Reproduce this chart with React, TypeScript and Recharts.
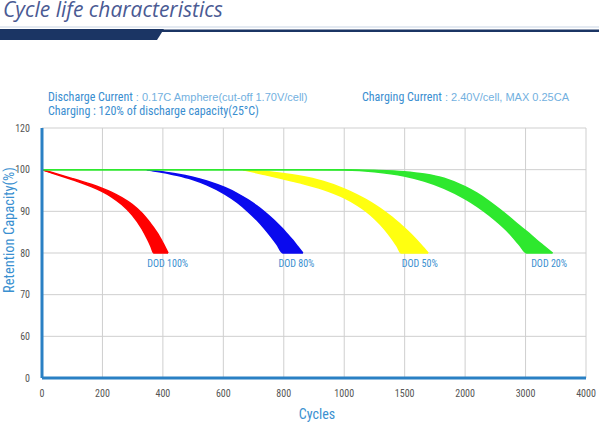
import React from 'react';
import { ComposedChart, Area, XAxis, YAxis, CartesianGrid, ReferenceDot } from 'recharts';

// Axis tick labels (x axis is a non-linear, equally spaced scale)
const xTickCycles = [0, 200, 400, 600, 800, 1000, 1500, 2000, 3000, 4000];
const yTickLabels = [0, 60, 70, 80, 90, 100, 120];
const yTickPositions = [50, 60, 70, 80, 90, 100, 110];

// Bands: cycles, lower edge (%), upper edge (%)
const dod100Cycles = [0, 33, 66, 99, 132, 165, 198, 231, 264, 298, 331, 350, 360, 370, 384, 400, 417];
const dod100Low = [100, 99.21, 98.43, 97.63, 96.8, 95.88, 94.8, 93.44, 91.64, 89.18, 85.79, 83.18, 81.66, 80, 80, 80, 80];
const dod100High = [100, 99.31, 98.61, 97.91, 97.19, 96.42, 95.56, 94.55, 93.29, 91.67, 89.52, 87.91, 86.99, 85.99, 84.51, 82.42, 80];

const dod80Cycles = [347, 397, 446, 496, 545, 605, 645, 681, 711, 734, 757, 777, 797, 813, 830, 846, 863];
const dod80Low = [100, 99.38, 98.65, 97.68, 96.35, 94.14, 92.19, 90, 87.9, 86.05, 84.01, 82.08, 80, 80, 80, 80, 80];
const dod80High = [100, 99.53, 98.98, 98.26, 97.3, 95.71, 94.33, 92.78, 91.3, 90, 88.56, 87.21, 85.75, 84.44, 83.05, 81.57, 80];

const dod50Cycles = [665, 731, 797, 853, 929, 1000, 1107, 1182, 1256, 1331, 1397, 1438, 1471, 1521, 1579, 1636, 1694];
const dod50Low = [100, 98.92, 97.82, 96.85, 95.3, 93.24, 91.52, 90, 88.13, 85.84, 83.36, 81.58, 80, 80, 80, 80, 80];
const dod50High = [100, 99.61, 99.09, 98.46, 97.2, 95.38, 93.95, 92.79, 91.48, 90, 88.53, 87.54, 86.71, 85.38, 83.72, 81.93, 80];

const dod20Cycles = [0, 853, 1000, 1248, 1496, 1661, 1826, 2000, 2198, 2397, 2562, 2727, 2893, 3017, 3182, 3314, 3446];
const dod20Low = [100, 100, 99.91, 99.49, 98.46, 97.26, 95.53, 93.0, 91.2, 89.08, 87.07, 84.81, 82.05, 80, 80, 80, 80];
const dod20High = [100, 100, 99.98, 99.86, 99.52, 98.96, 97.95, 95.9, 94.34, 92.41, 90.6, 88.67, 86.63, 85.18, 83.13, 81.57, 80];

const dodLabels = ['DOD 100%', 'DOD 80%', 'DOD 50%', 'DOD 20%'];
const dodLabelCycles = [416, 842, 1625, 3390];

// map cycles onto the equally spaced tick index scale
const toIdx = (c: number) => {
  for (let i = 0; i < xTickCycles.length - 1; i++) {
    const a = xTickCycles[i];
    const b = xTickCycles[i + 1];
    if (c <= b) return i + (c - a) / (b - a);
  }
  return xTickCycles.length - 1;
};

const band = (cs: number[], lo: number[], hi: number[]) =>
  cs.map((c, i) => ({ x: toIdx(c), range: [lo[i], hi[i]] }));

const series = [
  { key: 'dod100', data: band(dod100Cycles, dod100Low, dod100High), color: '#ff0000' },
  { key: 'dod80', data: band(dod80Cycles, dod80Low, dod80High), color: '#0a0aee' },
  { key: 'dod50', data: band(dod50Cycles, dod50Low, dod50High), color: '#ffff10' },
  { key: 'dod20', data: band(dod20Cycles, dod20Low, dod20High), color: '#2ee82e' },
];

const narrow = '"Liberation Sans Narrow", "Roboto Condensed", "Liberation Sans", Arial, sans-serif';
const regular = '"Liberation Sans", Arial, sans-serif';

export default function App() {
  return (
    <div style={{ position: 'absolute', left: 0, top: 0, width: 599, height: 433, background: '#fff', overflow: 'hidden' }}>
      <ComposedChart width={599} height={433} margin={{ top: 128, right: 13, bottom: 25, left: 12 }}>
        <CartesianGrid stroke="#cfcfcf" strokeWidth={1} />
        <XAxis
          type="number"
          dataKey="x"
          domain={[0, xTickCycles.length - 1]}
          ticks={xTickCycles.map((_, i) => i)}
          tickFormatter={(v: number) => String(xTickCycles[v])}
          axisLine={{ stroke: '#2a80c4', strokeWidth: 3 }}
          tickLine={false}
          tick={{ fontSize: 10, fill: '#555', fontFamily: narrow }}
          tickMargin={6}
          height={30}
          interval={0}
        />
        <YAxis
          type="number"
          domain={[50, 110]}
          ticks={yTickPositions}
          tickFormatter={(v: number) => String(yTickLabels[yTickPositions.indexOf(v)])}
          axisLine={{ stroke: '#2a80c4', strokeWidth: 3 }}
          tickLine={false}
          tick={{ fontSize: 10, fill: '#555', fontFamily: narrow }}
          tickMargin={6}
          width={30}
          interval={0}
          allowDataOverflow
        />
        {series.map((s) => (
          <Area
            key={s.key}
            data={s.data}
            dataKey="range"
            type="monotone"
            stroke={s.color}
            strokeWidth={1.5}
            fill={s.color}
            fillOpacity={1}
            dot={false}
            activeDot={false}
            isAnimationActive={false}
          />
        ))}
        {dodLabels.map((t, i) => (
          <ReferenceDot
            key={t}
            x={toIdx(dodLabelCycles[i])}
            y={80}
            r={1}
            fill="none"
            stroke="none"
            label={{ value: t, position: 'bottom', offset: 6, fill: '#3a8fd0', fontSize: 10, fontFamily: narrow }}
          />
        ))}
      </ComposedChart>
      <svg width={599} height={433} style={{ position: 'absolute', left: 0, top: 0, pointerEvents: 'none' }}>
        <text x={3} y={17} fontFamily='"Open Sans", sans-serif' fontStyle="italic" fontSize={21} fill="#4a5a93">
          Cycle life characteristics
        </text>
        <rect x={0} y={26.5} width={599} height={1} fill="#c9d5e6" />
        <polygon points="0,29 164,29 157,40 0,40" fill="#1b3564" />
        <rect x={160} y={29.5} width={439} height={2.5} fill="#1b3564" />
        <text x={48} y={101} fontFamily={narrow} fontSize={12} fill="#3a8ed0">
          Discharge Current
          <tspan fontFamily={regular} fontSize={11} fill="#72b0e0"> : 0.17C Amphere(cut-off 1.70V/cell)</tspan>
        </text>
        <text x={362} y={101} fontFamily={narrow} fontSize={12} fill="#3a8ed0">
          Charging Current
          <tspan fontFamily={regular} fontSize={11} fill="#72b0e0"> : 2.40V/cell, MAX 0.25CA</tspan>
        </text>
        <text x={48} y={115} fontFamily={narrow} fontSize={12} fill="#3a8ed0">
          Charging : 120% of discharge capacity(25°C)
        </text>
        <text
          x={0}
          y={0}
          transform="translate(14,230) rotate(-90)"
          textAnchor="middle"
          fontFamily={narrow}
          fontSize={14.5}
          fill="#3a90d0"
        >
          Retention Capacity(%)
        </text>
        <text x={317} y={419} textAnchor="middle" fontFamily={narrow} fontSize={14} fill="#3a90d0">
          Cycles
        </text>
      </svg>
    </div>
  );
}
